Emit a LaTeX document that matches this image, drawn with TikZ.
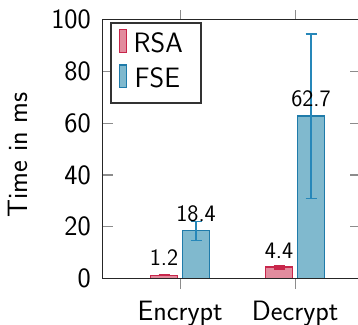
\documentclass[tikz,border=0pt]{standalone}
\usepackage{fontspec}
\begin{document}
\begin{tikzpicture}[x=1pt,y=-1pt,
  axisline/.style={draw=black!85,line width=1.2pt},
  tickline/.style={draw=black!45,line width=1.2pt},
  rsabar/.style={draw={rgb,255:red,200;green,38;blue,75},fill={rgb,255:red,226;green,140;blue,158},line width=1.3pt},
  fsebar/.style={draw={rgb,255:red,31;green,123;blue,170},fill={rgb,255:red,128;green,185;blue,206},line width=1.3pt},
  rsaerr/.style={draw={rgb,255:red,200;green,38;blue,75},line width=1.3pt},
  fseerr/.style={draw={rgb,255:red,38;green,135;blue,185},line width=1.3pt},
  bigtxt/.style={font=\sffamily\fontsize{28}{33}\selectfont,inner sep=0pt},
  valtxt/.style={font=\sffamily\fontsize{23.6}{28}\selectfont,inner sep=0pt,anchor=base},
  legbox/.style={draw=black!80,fill=white,line width=1.2pt}]
\useasboundingbox (0,0) rectangle (358,324);
\clip (0,0) rectangle (358,324);
% bars
\draw[rsabar] (150.5,278.5) rectangle (177.5,275.4);
\draw[fsebar] (182.7,278.5) rectangle (209.5,230.8);
\draw[rsabar] (265.5,278.5) rectangle (292.5,267.1);
\draw[fsebar] (297.5,278.5) rectangle (324.5,116.1);
% error bars
\coordinate (e1t) at (164,275.1); \coordinate (e1b) at (164,275.7);
\draw[rsaerr] (e1t) -- (e1b) (158.5,275.1) -- (169.5,275.1) (158.5,275.7) -- (169.5,275.7);
\coordinate (e2t) at (196.1,221.3); \coordinate (e2b) at (196.1,240.2);
\draw[fseerr] (e2t) -- (e2b);
\draw[fseerr] ([xshift=-5.5pt]e2t) -- ([xshift=5.5pt]e2t) ([xshift=-5.5pt]e2b) -- ([xshift=5.5pt]e2b);
\coordinate (e3t) at (279,265.2); \coordinate (e3b) at (279,269);
\draw[rsaerr] (e3t) -- (e3b);
\draw[rsaerr] ([xshift=-5.5pt]e3t) -- ([xshift=5.5pt]e3t) ([xshift=-5.5pt]e3b) -- ([xshift=5.5pt]e3b);
\coordinate (e4t) at (311,34); \coordinate (e4b) at (311,198.3);
\draw[fseerr] (e4t) -- (e4b);
\draw[fseerr] ([xshift=-5.5pt]e4t) -- ([xshift=5.5pt]e4t) ([xshift=-5.5pt]e4b) -- ([xshift=5.5pt]e4b);
% value labels
\node[valtxt] (v1) at (164,265.2) {1.2};
\node[valtxt] (v2) at (196.1,221.5) {18.4};
\node[valtxt] (v3) at (279,258.2) {4.4};
\node[valtxt] (v4) at (311,106.8) {62.7};
% ticks
\foreach \yy in {226.7,174.9,123.1,71.3} {
  \draw[tickline] (102.7,\yy) -- (112.7,\yy);
  \draw[tickline] (350,\yy) -- (360,\yy);
}
\foreach \xx in {180.2,295.2} {
  \draw[tickline] (\xx,278.5) -- (\xx,288.5);
  \draw[tickline] (\xx,19.7) -- (\xx,9.7);
}
% axis box
\draw[axisline] (102.7,19.7) rectangle (360,278.5);
% y tick labels
\node[bigtxt,anchor=east] (t0) at (91,278.5) {0};
\node[bigtxt,anchor=east] (t20) at (91,226.7) {20};
\node[bigtxt,anchor=east] (t40) at (91,174.9) {40};
\node[bigtxt,anchor=east] (t60) at (91,123.1) {60};
\node[bigtxt,anchor=east] (t80) at (91,71.3) {80};
\node[bigtxt,anchor=east] (t100) at (91,19.5) {100};
% x tick labels
\node[bigtxt,anchor=base] (xe) at (180.2,320) {Encrypt};
\node[bigtxt,anchor=base] (xd) at (295.2,320) {Decrypt};
% y label
\node[bigtxt,rotate=90,anchor=south] (yl) at (28,155) {Time in ms};
% legend
\draw[legbox] (111,23) rectangle (201,103);
\draw[rsabar,line width=1.1pt] (119.5,29.5) rectangle (126.5,52.3);
\draw[fsebar,line width=1.1pt] (119.5,65) rectangle (126.5,87.7);
\node[bigtxt,anchor=base west] (lr) at (133.5,52.8) {RSA};
\node[bigtxt,anchor=base west] (lf) at (134.5,87.8) {FSE};
\end{tikzpicture}
\end{document}
